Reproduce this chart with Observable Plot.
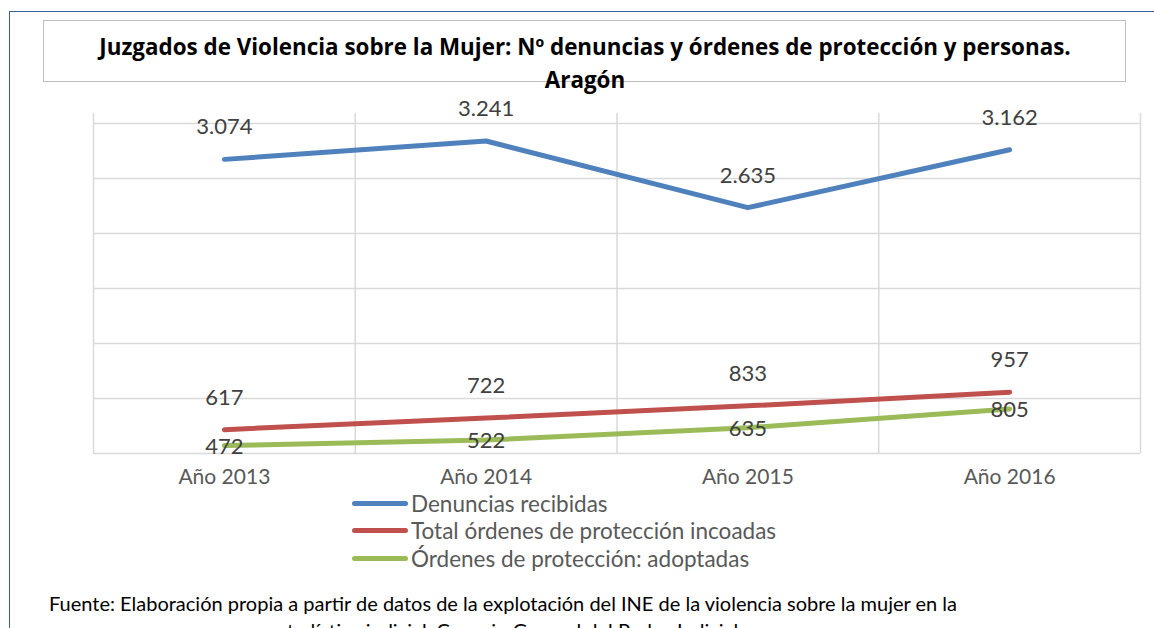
<!DOCTYPE html>
<html>
<head>
<meta charset="utf-8">
<script src="https://cdn.jsdelivr.net/npm/d3@7"></script>
<script src="https://cdn.jsdelivr.net/npm/@observablehq/plot@0.6"></script>
<style>
  html, body { margin: 0; padding: 0; background: #fff; }
  #root { position: relative; width: 1154px; height: 628px; overflow: hidden; font-family: Lato, "Open Sans", sans-serif; }
  #frame { position: absolute; left: 9px; top: 11px; width: 1200px; height: 700px; border-left: 1.5px solid #3b5f96; border-top: 1.5px solid #3b5f96; }
  #titlebox { position: absolute; left: 43px; top: 20px; width: 1081px; height: 60px; border: 1.5px solid #bfbfbf; }
  #title { position: absolute; left: 43px; top: 30px; width: 1084px; text-align: center; font-family: "Open Sans", sans-serif; font-weight: bold; font-size: 22.4px; line-height: 33px; color: #000; }
  #chart { position: absolute; left: 0; top: 0; }
  .leg { position: absolute; left: 352px; height: 26px; display: flex; align-items: center; font-size: 22.5px; color: #595959; white-space: nowrap; }
  .leg span.sw { display: inline-block; width: 56px; height: 5px; border-radius: 3px; margin-right: 3px; }
  #foot { position: absolute; left: 3px; top: 590px; width: 1000px; text-align: center; font-size: 20px; line-height: 27px; color: #000; white-space: nowrap; }
</style>
</head>
<body>
<div id="root">
  <div id="frame"></div>
  <div id="titlebox"></div>
  <div id="title"></div>
  <div id="chart"></div>
  <div id="legend"></div>
  <div id="foot"></div>
</div>
<script>
const titleLines = ["Juzgados de Violencia sobre la Mujer: Nº denuncias y órdenes de protección y personas.", "Aragón"];
const years = ["Año 2013", "Año 2014", "Año 2015", "Año 2016"];
const seriesNames = ["Denuncias recibidas", "Total órdenes de protección incoadas", "Órdenes de protección: adoptadas"];
const denuncias = [3074, 3241, 2635, 3162];
const ordenesIncoadas = [617, 722, 833, 957];
const ordenesAdoptadas = [472, 522, 635, 805];
const seriesColors = ["#4F81BD", "#C0504D", "#9BBB59"];
const yGrid = [400, 900, 1400, 1900, 2400, 2900, 3400];
const footLines = [
  "Fuente: Elaboración propia a partir de datos de la explotación del INE de la violencia sobre la mujer en la",
  "estadística judicial. Consejo General del Poder Judicial"
];

const fmt = d3.formatLocale({decimal: ",", thousands: ".", grouping: [3], currency: ["", "€"]}).format(",d");

const seriesValues = [denuncias, ordenesIncoadas, ordenesAdoptadas];
const data = seriesValues.flatMap((vals, s) => vals.map((v, i) => ({series: seriesNames[s], s, i, value: v})));
const boundaries = d3.range(years.length + 1).map(i => i - 0.5);

function fillLines(el, lines) {
  lines.forEach((t, k) => { if (k) el.appendChild(document.createElement("br")); el.appendChild(document.createTextNode(t)); });
}
fillLines(document.getElementById("title"), titleLines);
fillLines(document.getElementById("foot"), footLines);

const chart = Plot.plot({
  width: 1154,
  height: 500,
  marginTop: 113,
  marginBottom: 47,
  marginLeft: 93,
  marginRight: 14,
  style: {fontFamily: "Lato, 'Open Sans', sans-serif", fontSize: "20px", background: "transparent", overflow: "visible"},
  x: {type: "linear", domain: [-0.5, years.length - 0.5], axis: null},
  y: {domain: [400, 3491], axis: null},
  marks: [
    Plot.ruleY(yGrid, {stroke: "#d9d9d9", strokeWidth: 1.5}),
    Plot.ruleX(boundaries, {stroke: "#d9d9d9", strokeWidth: 1.5}),
    Plot.axisX(d3.range(years.length), {tickFormat: i => years[i], tickSize: 0, tickPadding: 16, fontSize: 21, fill: "#595959", label: null}),
    Plot.line(data, {x: "i", y: "value", z: "series", stroke: d => seriesColors[d.s], strokeWidth: 5, strokeLinecap: "round", strokeLinejoin: "round"}),
    Plot.text(data.filter(d => d.s < 2), {x: "i", y: "value", text: d => fmt(d.value), dy: -32, fill: "#404040", fontSize: 22}),
    Plot.text(data.filter(d => d.s === 2), {x: "i", y: "value", text: d => fmt(d.value), dy: 1, fill: "#404040", fontSize: 22})
  ]
});
document.getElementById("chart").appendChild(chart);

const legend = document.getElementById("legend");
const legendTops = [490, 517, 545];
seriesNames.forEach((name, s) => {
  const row = document.createElement("div");
  row.className = "leg";
  row.style.top = legendTops[s] + "px";
  const sw = document.createElement("span");
  sw.className = "sw";
  sw.style.background = seriesColors[s];
  row.appendChild(sw);
  row.appendChild(document.createTextNode(name));
  legend.appendChild(row);
});
</script>
</body>
</html>
